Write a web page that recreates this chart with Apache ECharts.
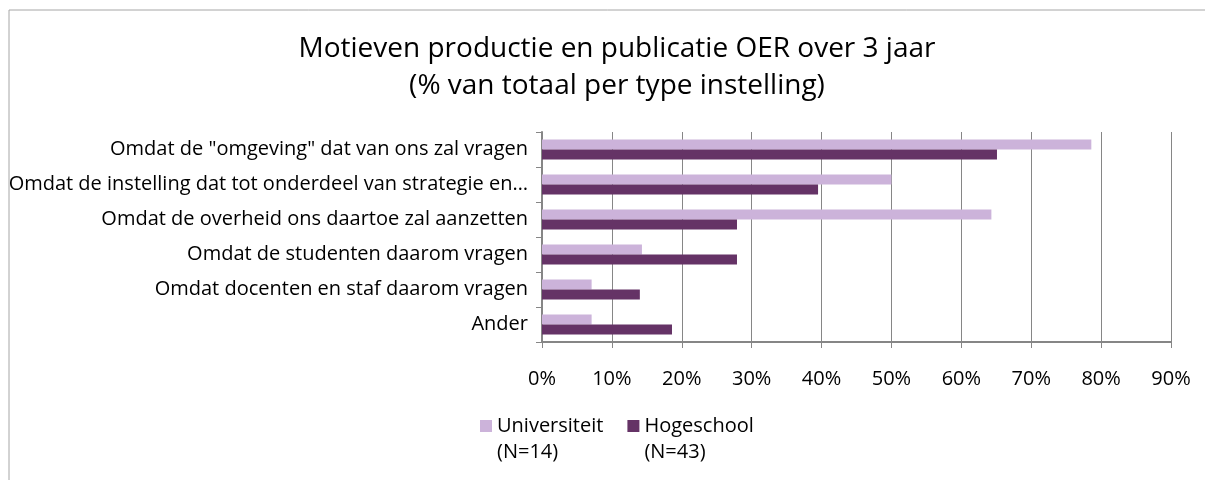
<!DOCTYPE html>
<html>
<head>
<meta charset="utf-8">
<script src="https://cdn.jsdelivr.net/npm/echarts@6/dist/echarts.min.js"></script>
<style>
  html, body { margin: 0; padding: 0; background: #fff; }
  #chart { width: 1205px; height: 480px; }
</style>
</head>
<body>
<div id="chart"></div>
<script>
// categorieen (van boven naar beneden)
var categories = [
    'Omdat de "omgeving" dat van ons zal vragen',
    'Omdat de instelling dat tot onderdeel van strategie en…',
    'Omdat de overheid ons daartoe zal aanzetten',
    'Omdat de studenten daarom vragen',
    'Omdat docenten en staf daarom vragen',
    'Ander'
];
// percentages per type instelling
var universiteit = [78.6, 50.0, 64.3, 14.3, 7.1, 7.1];
var hogeschool = [65.1, 39.5, 27.9, 27.9, 14.0, 18.6];
var seriesNames = ['Universiteit', 'Hogeschool'];
var seriesN = ['(N=14)', '(N=43)'];

var font = 'Open Sans, Noto Sans, sans-serif';
var myChart = echarts.init(document.getElementById('chart'));

var option = {
    animation: false,
    color: ['#ccb3da', '#653366'],
    graphic: [{
        type: 'rect',
        shape: { x: 9, y: 10, width: 1200, height: 480 },
        style: { fill: 'none', stroke: '#a6a6a6', lineWidth: 1 }
    }],
    title: {
        text: 'Motieven productie en publicatie OER over 3 jaar\n(% van totaal per type instelling)',
        left: 612,
        textAlign: 'center',
        top: 26,
        textStyle: {
            fontFamily: font,
            fontSize: 28,
            fontWeight: 'normal',
            color: '#000',
            lineHeight: 37
        }
    },
    legend: {
        left: 475,
        top: 382,
        itemWidth: 12,
        itemHeight: 12,
        itemGap: 24,
        icon: 'rect',
        align: 'left',
        textStyle: {
            fontFamily: font,
            fontSize: 20,
            color: '#000',
            lineHeight: 26
        },
        // lege eerste regel zodat het blokje bij de eerste tekstregel staat
        formatter: function (name) {
            return ' \n' + name + '\n' + seriesN[seriesNames.indexOf(name)];
        },
        data: seriesNames
    },
    grid: {
        left: 542,
        right: 34,
        top: 132,
        bottom: 138,
        containLabel: false
    },
    xAxis: {
        type: 'value',
        min: 0,
        max: 90,
        interval: 10,
        axisLine: { show: true, lineStyle: { color: '#868686', width: 2 } },
        axisTick: { show: true, length: 6, lineStyle: { color: '#868686' } },
        splitLine: { show: true, lineStyle: { color: '#868686', width: 1 } },
        axisLabel: {
            margin: 27,
            fontFamily: font,
            fontSize: 20,
            color: '#000',
            formatter: function (v) { return v + '%'; }
        }
    },
    yAxis: {
        type: 'category',
        inverse: true,
        data: categories,
        axisLine: { show: true, lineStyle: { color: '#868686', width: 2 } },
        axisTick: { show: true, length: 6, lineStyle: { color: '#868686' } },
        axisLabel: {
            margin: 14,
            fontFamily: font,
            fontSize: 20,
            color: '#000'
        }
    },
    series: [{
        name: seriesNames[0],
        type: 'bar',
        data: universiteit,
        barWidth: 10,
        barGap: '0%'
    }, {
        name: seriesNames[1],
        type: 'bar',
        data: hogeschool,
        barWidth: 10,
        barGap: '0%'
    }]
};

myChart.setOption(option);
window.addEventListener('resize', function () {
    myChart.resize();
});
</script>
</body>
</html>
